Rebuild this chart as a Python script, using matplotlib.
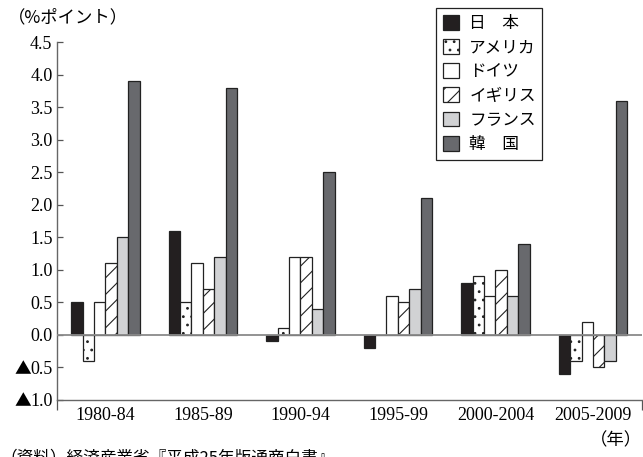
import numpy as np
import matplotlib
matplotlib.use("Agg")
import matplotlib.pyplot as plt

# === Data ===
periods = ["1980-84", "1985-89", "1990-94", "1995-99", "2000-2004", "2005-2009"]
countries = ["日　本", "アメリカ", "ドイツ", "イギリス", "フランス", "韓　国"]
japan = [0.5, 1.6, -0.1, -0.2, 0.8, -0.6]
usa = [-0.4, 0.5, 0.1, 0.0, 0.9, -0.4]
germany = [0.5, 1.1, 1.2, 0.6, 0.6, 0.2]
uk = [1.1, 0.7, 1.2, 0.5, 1.0, -0.5]
france = [1.5, 1.2, 0.4, 0.7, 0.6, -0.4]
korea = [3.9, 3.8, 2.5, 2.1, 1.4, 3.6]
yticks = [-1.0, -0.5, 0.0, 0.5, 1.0, 1.5, 2.0, 2.5, 3.0, 3.5, 4.0, 4.5]
ytick_labels = ["1.0", "0.5", "0.0", "0.5", "1.0", "1.5", "2.0", "2.5",
                "3.0", "3.5", "4.0", "4.5"]

# === Styles ===
series = [japan, usa, germany, uk, france, korea]
fills = ["#231f20", "white", "white", "white", "#d1d2d4", "#68696d"]
hatches = [None, "..", None, "//", None, None]

SERIF = ["Liberation Serif", "Noto Sans CJK JP"]
JP = ["Noto Sans CJK JP", "DejaVu Sans"]
plt.rcParams["hatch.linewidth"] = 0.8
plt.rcParams["hatch.color"] = "#222222"

fig = plt.figure(figsize=(6.43, 4.57), dpi=100)
ax = fig.add_axes([0.088, 0.125, 0.91, 0.783])

x = np.arange(len(periods))
w = 0.117
for i, (vals, fc, h) in enumerate(zip(series, fills, hatches)):
    ax.bar(x + (i - 2.5) * w, vals, w, color=fc, edgecolor="#222222",
           linewidth=0.9, hatch=h, label=countries[i], zorder=2)

# zero line across the plot
ax.axhline(0, color="#8a8a8a", linewidth=1.3, zorder=3)

ax.set_xlim(-0.5, 5.5)
ax.set_ylim(-1.0, 4.5)
ax.set_yticks(yticks)
ax.set_yticklabels(ytick_labels, family=SERIF, fontsize=13)
ax.tick_params(axis="y", direction="in", length=4, width=0.9, color="#555555", pad=3)

ax.set_xticks(x)
ax.set_xticklabels(periods, family=SERIF, fontsize=13)
ax.tick_params(axis="x", which="major", length=0, pad=5)
ax.set_xticks([-0.5, 5.5], minor=True)
ax.tick_params(axis="x", which="minor", direction="out", length=7, width=0.9, color="#555555")

for s in ["top", "right"]:
    ax.spines[s].set_visible(False)
for s in ["left", "bottom"]:
    ax.spines[s].set_color("#666666")
    ax.spines[s].set_linewidth(1.0)

leg = ax.legend(loc="upper left", bbox_to_anchor=(0.678, 0.982),
                bbox_transform=fig.transFigure, borderaxespad=0,
                fancybox=False, edgecolor="#222222", framealpha=1,
                prop={"family": JP, "size": 12}, handlelength=1.0,
                handleheight=1.0, labelspacing=0.42, handletextpad=0.6,
                borderpad=0.4)
leg.get_frame().set_linewidth(0.9)

# ▲ marks for negative values, placed left of their tick labels
fig.canvas.draw()
renderer = fig.canvas.get_renderer()
for val, lab in zip(yticks, ax.get_yticklabels()):
    if val < 0:
        bb = lab.get_window_extent(renderer)
        fx, fy = fig.transFigure.inverted().transform((bb.x0, (bb.y0 + bb.y1) / 2))
        fig.text(fx + 0.002, fy, "▲", family=JP, fontsize=12, ha="right", va="center")

fig.text(0.012, 0.962, "（%ポイント）", family=JP, fontsize=12.5, va="center")
fig.text(0.998, 0.037, "（年）", family=JP, fontsize=12.5, ha="right", va="center")
fig.text(0.0, 0.017, "（資料）経済産業省『平成25年版通商白書』", family=JP,
         fontsize=12, va="top")

plt.savefig("out.png", dpi=100)
